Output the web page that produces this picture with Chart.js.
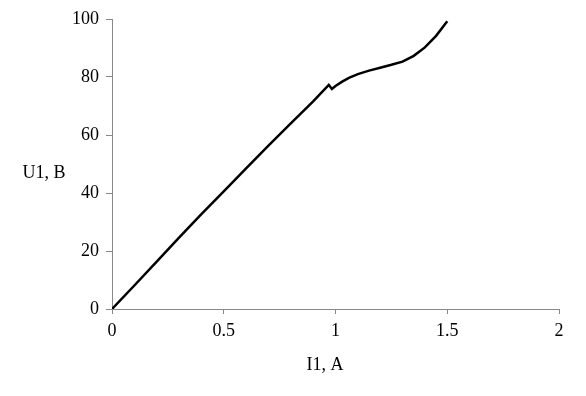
<!DOCTYPE html>
<html>
<head>
<meta charset="utf-8">
<script src="https://cdn.jsdelivr.net/npm/chart.js@4/dist/chart.umd.min.js"></script>
<style>
  body { margin: 0; background: #fff; }
  #wrap { width: 586px; height: 396px; }
</style>
</head>
<body>
<div id="wrap"><canvas id="myChart" width="586" height="396"></canvas></div>
<script>
// current I1 (A) and voltage U1 (B)
const currentI1 = [0, 0.1, 0.2, 0.3, 0.4, 0.5, 0.6, 0.7, 0.8, 0.9, 0.97, 0.984, 1.0, 1.03, 1.06, 1.1, 1.15, 1.2, 1.25, 1.3, 1.35, 1.4, 1.45, 1.5];
const voltageU1 = [0, 8.1, 16.3, 24.6, 32.7, 40.6, 48.5, 56.3, 64.0, 71.6, 77.3, 75.9, 76.9, 78.4, 79.7, 81.0, 82.2, 83.2, 84.2, 85.3, 87.3, 90.2, 94.2, 99.2];
const xTitle = "I1, A";
const yTitle = "U1, B";

const points = currentI1.map((x, i) => ({x: x, y: voltageU1[i]}));

const axisFont = {family: "'Liberation Serif', 'DejaVu Serif', serif", size: 18};

const titlesPlugin = {
  id: "titles",
  afterDraw(chart) {
    const ctx = chart.ctx;
    ctx.save();
    ctx.font = "18px 'Liberation Serif', serif";
    ctx.fillStyle = "#000";
    ctx.textAlign = "center";
    ctx.textBaseline = "middle";
    ctx.fillText(yTitle, 44, 173);
    ctx.fillText(xTitle, 325, 365);
    ctx.restore();
  }
};

const ctx = document.getElementById("myChart");
const chart = new Chart(ctx, {
  type: "scatter",
  data: {
    datasets: [{
      data: points,
      showLine: true,
      borderColor: "#000",
      borderWidth: 2.5,
      pointRadius: 0,
      tension: 0
    }]
  },
  options: {
    responsive: false,
    animation: false,
    layout: {padding: {top: 19, right: 27, left: 0, bottom: 0}},
    plugins: {legend: {display: false}, tooltip: {enabled: false}},
    scales: {
      x: {
        type: "linear",
        min: 0,
        max: 2,
        afterFit: (scale) => { scale.height = 87; },
        ticks: {stepSize: 0.5, color: "#000", font: axisFont, padding: 6, maxRotation: 0,
          callback: (v) => String(v)},
        grid: {drawOnChartArea: false, tickLength: 5, color: "#888"},
        border: {color: "#888"}
      },
      y: {
        min: 0,
        max: 100,
        afterFit: (scale) => { scale.width = 112; },
        ticks: {stepSize: 20, color: "#000", font: axisFont, padding: 7},
        grid: {drawOnChartArea: false, tickLength: 6, color: "#888"},
        border: {color: "#888"}
      }
    }
  },
  plugins: [titlesPlugin]
});
</script>
</body>
</html>
